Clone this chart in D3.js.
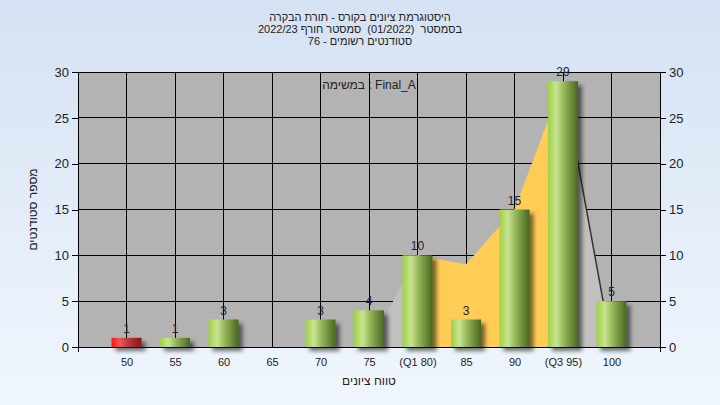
<!DOCTYPE html>
<html>
<head>
<meta charset="utf-8">
<script src="https://cdn.jsdelivr.net/npm/d3@7"></script>
<style>
  html, body { margin: 0; padding: 0; }
  body { width: 720px; height: 405px; overflow: hidden; }
  svg { display: block; font-family: "Liberation Sans", Arial, sans-serif; }
  text { white-space: pre; }
</style>
</head>
<body>
<svg id="chart" width="720" height="405"></svg>
<script>
// ---- data ----
const categories = ["50", "55", "60", "65", "70", "75", "(Q1 80)", "85", "90", "(Q3 95)", "100"];
const counts = [1, 1, 3, 0, 3, 4, 10, 3, 15, 29, 5];
const barKinds = ["fail", "pass", "pass", "pass", "pass", "pass", "pass", "pass", "pass", "pass", "pass"];
const areaValues = [0, 0, 0, 0, 0, 0, 10, 9, 15, 29, 0];
const yTicks = [0, 5, 10, 15, 20, 25, 30];
const titleLines = [
  "היסטוגרמת ציונים בקורס - תורת הבקרה",
  "בסמסטר  (01/2022)  סמסטר חורף 2022/23",
  "סטודנטים רשומים - 76"
];
const taskLabel = "במשימה : Final_A";
const xTitle = "טווח ציונים";
const yTitle = "מספר סטודנטים";

const svg = d3.select("#chart");
const W = 720, H = 405;
const plot = { left: 78, right: 660, top: 72, bottom: 347 };

const defs = svg.append("defs");
const bg = defs.append("linearGradient").attr("id", "bg").attr("x1", 0).attr("y1", 0).attr("x2", 0).attr("y2", 1);
bg.append("stop").attr("offset", "0%").attr("stop-color", "#d5e2f3");
bg.append("stop").attr("offset", "100%").attr("stop-color", "#f0f6fd");

const gGreen = defs.append("linearGradient").attr("id", "gGreen").attr("x1", 0).attr("y1", 0).attr("x2", 1).attr("y2", 0);
[["0%", "#9fd045"], ["28%", "#c9e491"], ["55%", "#93b357"], ["100%", "#48661f"]].forEach(([o, c]) =>
  gGreen.append("stop").attr("offset", o).attr("stop-color", c));
const gRed = defs.append("linearGradient").attr("id", "gRed").attr("x1", 0).attr("y1", 0).attr("x2", 1).attr("y2", 0);
[["0%", "#ff1414"], ["28%", "#e85a5a"], ["60%", "#b83434"], ["100%", "#881818"]].forEach(([o, c]) =>
  gRed.append("stop").attr("offset", o).attr("stop-color", c));

const f = defs.append("filter").attr("id", "shadow").attr("x", "-20%").attr("y", "-20%").attr("width", "160%").attr("height", "160%");
f.append("feDropShadow").attr("dx", 4).attr("dy", 4).attr("stdDeviation", 2)
  .attr("flood-color", "#000").attr("flood-opacity", 0.55);

svg.append("rect").attr("width", W).attr("height", H).attr("fill", "url(#bg)");

const x = d3.scalePoint().domain(categories).range([plot.left, plot.right]).padding(1);
const y = d3.scaleLinear().domain([0, 30]).range([plot.bottom, plot.top]);

// plot background
svg.append("rect")
  .attr("x", plot.left).attr("y", plot.top)
  .attr("width", plot.right - plot.left).attr("height", plot.bottom - plot.top)
  .attr("fill", "#b3b3b3");

// grid
const grid = svg.append("g").attr("stroke", "#000").attr("stroke-width", 1).attr("shape-rendering", "crispEdges");
grid.selectAll("line.h").data(yTicks.filter(t => t > 0)).join("line")
  .attr("x1", plot.left).attr("x2", plot.right)
  .attr("y1", d => y(d)).attr("y2", d => y(d));
grid.selectAll("line.v").data(categories).join("line")
  .attr("x1", d => x(d)).attr("x2", d => x(d))
  .attr("y1", plot.top).attr("y2", plot.bottom);

// background distribution area
const q1 = categories.findIndex(c => c.includes("Q1"));
const q3 = categories.findIndex(c => c.includes("Q3"));
const pts = categories.map((c, i) => ({ c, v: areaValues[i], i }));
const area = d3.area().x(d => x(d.c)).y0(y(0)).y1(d => y(d.v));
svg.append("path").datum(pts).attr("d", area).attr("fill", "#c1c1c1");
svg.append("path").datum(pts.filter(d => d.i >= q1 && d.i <= q3)).attr("d", area).attr("fill", "#ffcc55");
svg.append("path").datum(pts.filter(d => d.i >= q3 && d.i <= q3 + 1))
  .attr("d", d3.line().x(d => x(d.c)).y(d => y(d.v)))
  .attr("fill", "none").attr("stroke", "#333").attr("stroke-width", 1.5);

// bars
const bw = 30;
const bars = svg.append("g").attr("filter", "url(#shadow)");
bars.selectAll("rect").data(categories.map((c, i) => ({ c, v: counts[i], k: barKinds[i] })).filter(d => d.v > 0))
  .join("rect")
  .attr("x", d => x(d.c) - bw / 2)
  .attr("y", d => y(d.v))
  .attr("width", bw)
  .attr("height", d => y(0) - y(d.v))
  .attr("fill", d => d.k === "fail" ? "url(#gRed)" : "url(#gGreen)");

// bar labels
svg.append("g").selectAll("text").data(categories.map((c, i) => ({ c, v: counts[i] })).filter(d => d.v > 0))
  .join("text")
  .attr("x", d => x(d.c))
  .attr("y", d => y(d.v) - 5)
  .attr("text-anchor", "middle")
  .attr("font-size", 12)
  .attr("fill", "#1e2433")
  .text(d => d.v);

// axes
const axisStyle = g => {
  g.selectAll("text").attr("fill", "#222").attr("font-family", "Liberation Sans, Arial, sans-serif");
  g.selectAll("line, path").attr("stroke", "#000").attr("shape-rendering", "crispEdges");
};
svg.append("g").attr("transform", `translate(${plot.left},0)`)
  .call(d3.axisLeft(y).tickValues(yTicks).tickSize(6).tickSizeOuter(0).tickPadding(3))
  .call(axisStyle).call(g => g.selectAll("text").attr("font-size", 13));
svg.append("g").attr("transform", `translate(${plot.right},0)`)
  .call(d3.axisRight(y).tickValues(yTicks).tickSize(6).tickSizeOuter(0).tickPadding(3))
  .call(axisStyle).call(g => g.selectAll("text").attr("font-size", 13));
svg.append("g").attr("transform", `translate(0,${plot.bottom})`)
  .call(d3.axisBottom(x).tickSize(0).tickSizeOuter(5).tickPadding(11))
  .call(axisStyle).call(g => g.selectAll("text").attr("font-size", 11));

// titles
svg.append("g").selectAll("text").data(titleLines).join("text")
  .attr("x", 360).attr("y", (d, i) => 21 + i * 12)
  .attr("text-anchor", "middle").attr("direction", "rtl")
  .attr("font-size", 11).attr("fill", "#222")
  .text(d => d);

svg.append("text")
  .attr("x", (plot.left + plot.right) / 2).attr("y", 89)
  .attr("text-anchor", "middle")
  .attr("font-size", 12).attr("fill", "#222")
  .text(taskLabel);

svg.append("text")
  .attr("x", (plot.left + plot.right) / 2).attr("y", 385)
  .attr("text-anchor", "middle").attr("direction", "rtl")
  .attr("font-size", 12).attr("fill", "#222")
  .text(xTitle);

svg.append("text")
  .attr("transform", `translate(37,${(plot.top + plot.bottom) / 2}) rotate(-90)`)
  .attr("text-anchor", "middle")
  .attr("font-size", 12).attr("fill", "#222")
  .text(yTitle);
</script>
</body>
</html>
